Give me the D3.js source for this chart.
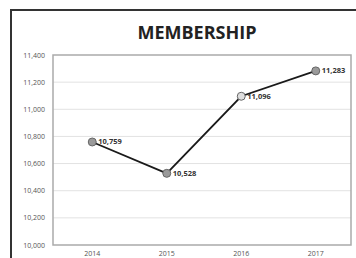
<!DOCTYPE html>
<html lang="en">
<head>
<meta charset="UTF-8">
<title>Membership</title>
<script src="https://d3js.org/d3.v7.min.js"></script>
<style>
  body { margin: 0; background: #fff; }
  svg { display: block; font-family: 'Open Sans', 'DejaVu Sans', sans-serif; }
  .grid line { stroke: #e2e2e2; stroke-width: 1; }
  .tick-label { font-size: 7px; fill: #555; }
  .val-label { font-size: 7.5px; font-weight: bold; fill: #333; }
</style>
</head>
<body>
<svg width="356" height="258"></svg>
<script>
const years = ["2014", "2015", "2016", "2017"];
const members = [10759, 10528, 11096, 11283];
const yTicks = [10000, 10200, 10400, 10600, 10800, 11000, 11200, 11400];
const markerFill = ["#9a9a9a", "#9a9a9a", "#dedede", "#9a9a9a"];

const svg = d3.select("svg");
const W = 356, H = 258;

// outer chart frame
svg.append("rect")
  .attr("x", 11).attr("y", 10)
  .attr("width", W).attr("height", H)
  .attr("fill", "#fff").attr("stroke", "#333").attr("stroke-width", 2);

svg.append("text")
  .attr("x", 197).attr("y", 39)
  .attr("text-anchor", "middle")
  .attr("font-size", 18).attr("font-weight", "bold")
  .attr("fill", "#222")
  .text("MEMBERSHIP");

const plot = { left: 53, right: 351, top: 55, bottom: 245 };

const x = d3.scaleBand().domain(years).range([plot.left, plot.right]);
const y = d3.scaleLinear().domain([10000, 11400]).range([plot.bottom, plot.top]);

// gridlines
svg.append("g").attr("class", "grid")
  .selectAll("line").data(yTicks.slice(1, -1)).join("line")
  .attr("x1", plot.left).attr("x2", plot.right)
  .attr("y1", d => y(d)).attr("y2", d => y(d));

// plot area border
svg.append("rect")
  .attr("x", plot.left).attr("y", plot.top)
  .attr("width", plot.right - plot.left).attr("height", plot.bottom - plot.top)
  .attr("fill", "none").attr("stroke", "#aaa").attr("stroke-width", 1.5);

// y tick labels
svg.append("g").selectAll("text").data(yTicks).join("text")
  .attr("class", "tick-label")
  .attr("x", 45).attr("y", d => y(d) + 2.5)
  .attr("text-anchor", "end")
  .text(d => d3.format(",")(d));

// x labels
svg.append("g").selectAll("text").data(years).join("text")
  .attr("class", "tick-label")
  .attr("x", d => x(d) + x.bandwidth() / 2 + 2)
  .attr("y", 255.5)
  .attr("text-anchor", "middle")
  .text(d => d);

const pts = years.map((yr, i) => ({ yr, v: members[i], fill: markerFill[i] }));

svg.append("path")
  .datum(pts)
  .attr("fill", "none").attr("stroke", "#1a1a1a").attr("stroke-width", 1.8)
  .attr("d", d3.line().x(d => x(d.yr) + x.bandwidth() / 2 + 2).y(d => y(d.v)));

svg.append("g").selectAll("circle").data(pts).join("circle")
  .attr("cx", d => x(d.yr) + x.bandwidth() / 2 + 2)
  .attr("cy", d => y(d.v))
  .attr("r", 4)
  .attr("fill", d => d.fill).attr("stroke", "#666").attr("stroke-width", 1);

svg.append("g").selectAll("text").data(pts).join("text")
  .attr("class", "val-label")
  .attr("x", d => x(d.yr) + x.bandwidth() / 2 + 8)
  .attr("y", d => y(d.v) + 2.5)
  .text(d => d3.format(",")(d.v));
</script>
</body>
</html>
